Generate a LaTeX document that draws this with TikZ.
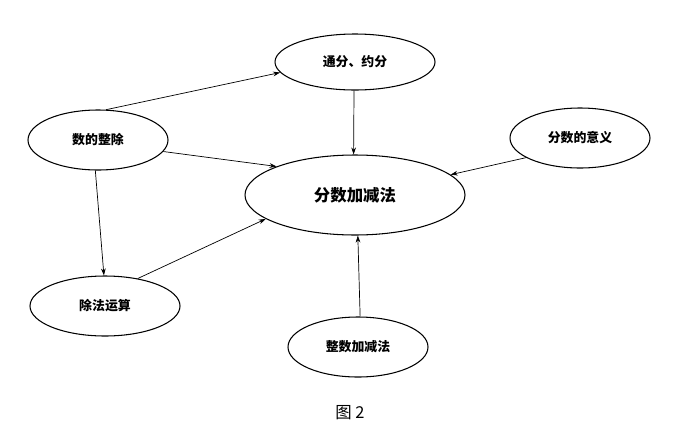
\documentclass[tikz,border=0pt]{standalone}
\usepackage{fontspec}
\setmainfont{Noto Sans CJK SC}
\usetikzlibrary{shapes.geometric,arrows.meta}
\begin{document}
\begin{tikzpicture}[x=0.03cm,y=-0.03cm,
  bub/.style={ellipse,draw,line width=0.9pt,inner sep=0pt,font=\bfseries\fontsize{11}{13}\selectfont},
  con/.style={-{Stealth[length=6pt,width=4pt]},line width=0.6pt}]
\useasboundingbox (0,0) rectangle (700,443);
\node[bub,minimum width=160\pgflinewidth*0+4.8cm,minimum height=1.68cm] (tf) at (355,62) {通分、约分};
\node[bub,minimum width=4.2cm,minimum height=1.8cm] (zc) at (98,140) {数的整除};
\node[bub,minimum width=4.2cm,minimum height=1.8cm] (yy) at (580,138) {分数的意义};
\node[bub,minimum width=6.6cm,minimum height=2.4cm,font=\bfseries\fontsize{14}{16}\selectfont] (fj) at (355,195) {分数加减法};
\node[bub,minimum width=4.5cm,minimum height=1.8cm] (cf) at (105,306) {除法运算};
\node[bub,minimum width=4.2cm,minimum height=1.8cm] (zj) at (358,347) {整数加减法};
\node[font=\fontsize{14}{16}\selectfont] (cap) at (350,413) {图 2};
\draw[con] (zc.75) -- (tf.188);
\draw[con] (zc.-10) -- (fj.160);
\draw[con] (zc.-95) -- (cf.92);
\draw[con] (cf.40) -- (fj.195);
\draw[con] (tf.-92) -- (fj.92);
\draw[con] (yy.200) -- (fj.12);
\draw[con] (zj.86) -- (fj.-86);
\end{tikzpicture}
\end{document}
